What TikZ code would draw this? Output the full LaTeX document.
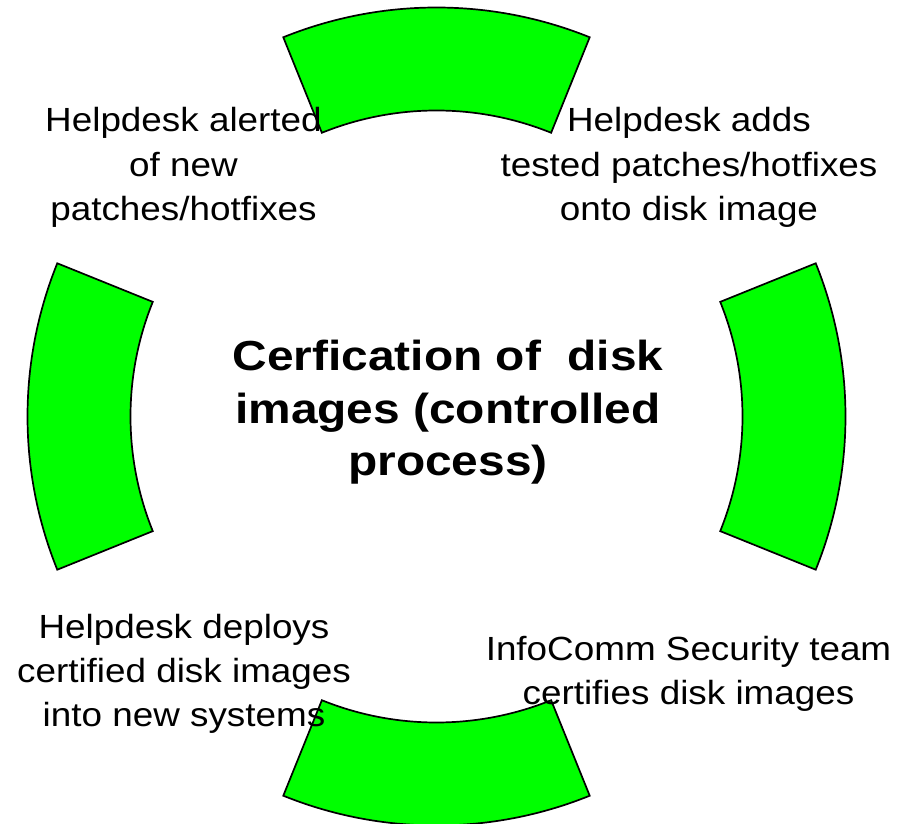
\documentclass[tikz,border=0pt]{standalone}
\usepackage{fontspec}
\setmainfont{Liberation Sans}[FakeStretch=1.1]
\newfontfamily\titlefont{Liberation Sans}[FakeStretch=1.14]
\definecolor{segfill}{HTML}{00FF00}
\tikzset{
  segment/.style={fill=segfill, draw=black, line width=1.7pt, line join=miter},
  steplabel/.style={align=center, inner sep=0pt, anchor=base,
    font=\fontsize{33.5}{44.5}\selectfont},
  hublabel/.style={align=center, inner sep=0pt, anchor=base,
    font=\titlefont\bfseries\fontsize{42}{52.5}\selectfont},
}
\begin{document}
\begin{tikzpicture}[x=1pt,y=1pt]
  \useasboundingbox (0,0) rectangle (898,823);
  \coordinate (hub) at (436.5,406.5);

  % four ring segments, each spanning 44 degrees around an axis
  \foreach \a in {0,90,180,270}{
    \draw[segment]
      ([shift={(\a-22:409pt)}]hub)
        arc[start angle=\a-22, end angle=\a+22, radius=409pt]
      -- ([shift={(\a+22:306pt)}]hub)
        arc[start angle=\a+22, end angle=\a-22, radius=306pt]
      -- cycle;
  }

  % step captions (the base anchor sits on the last line)
  \node[steplabel] (alert)   at (183.5,602) {Helpdesk alerted\\of new\\patches/hotfixes};
  \node[steplabel] (patch)   at (689,602)   {Helpdesk adds\\tested patches/hotfixes\\onto disk image};
  \node[steplabel] (certify) at (688.5,118.5) {InfoComm Security team\\certifies disk images};
  \node[steplabel] (deploy)  at (184,96)    {Helpdesk deploys\\certified disk images\\into new systems};

  % central caption
  \node[hublabel] (title) at (448,347) {Cerfication of\ \ disk\\images (controlled\\process)};
\end{tikzpicture}
\end{document}
